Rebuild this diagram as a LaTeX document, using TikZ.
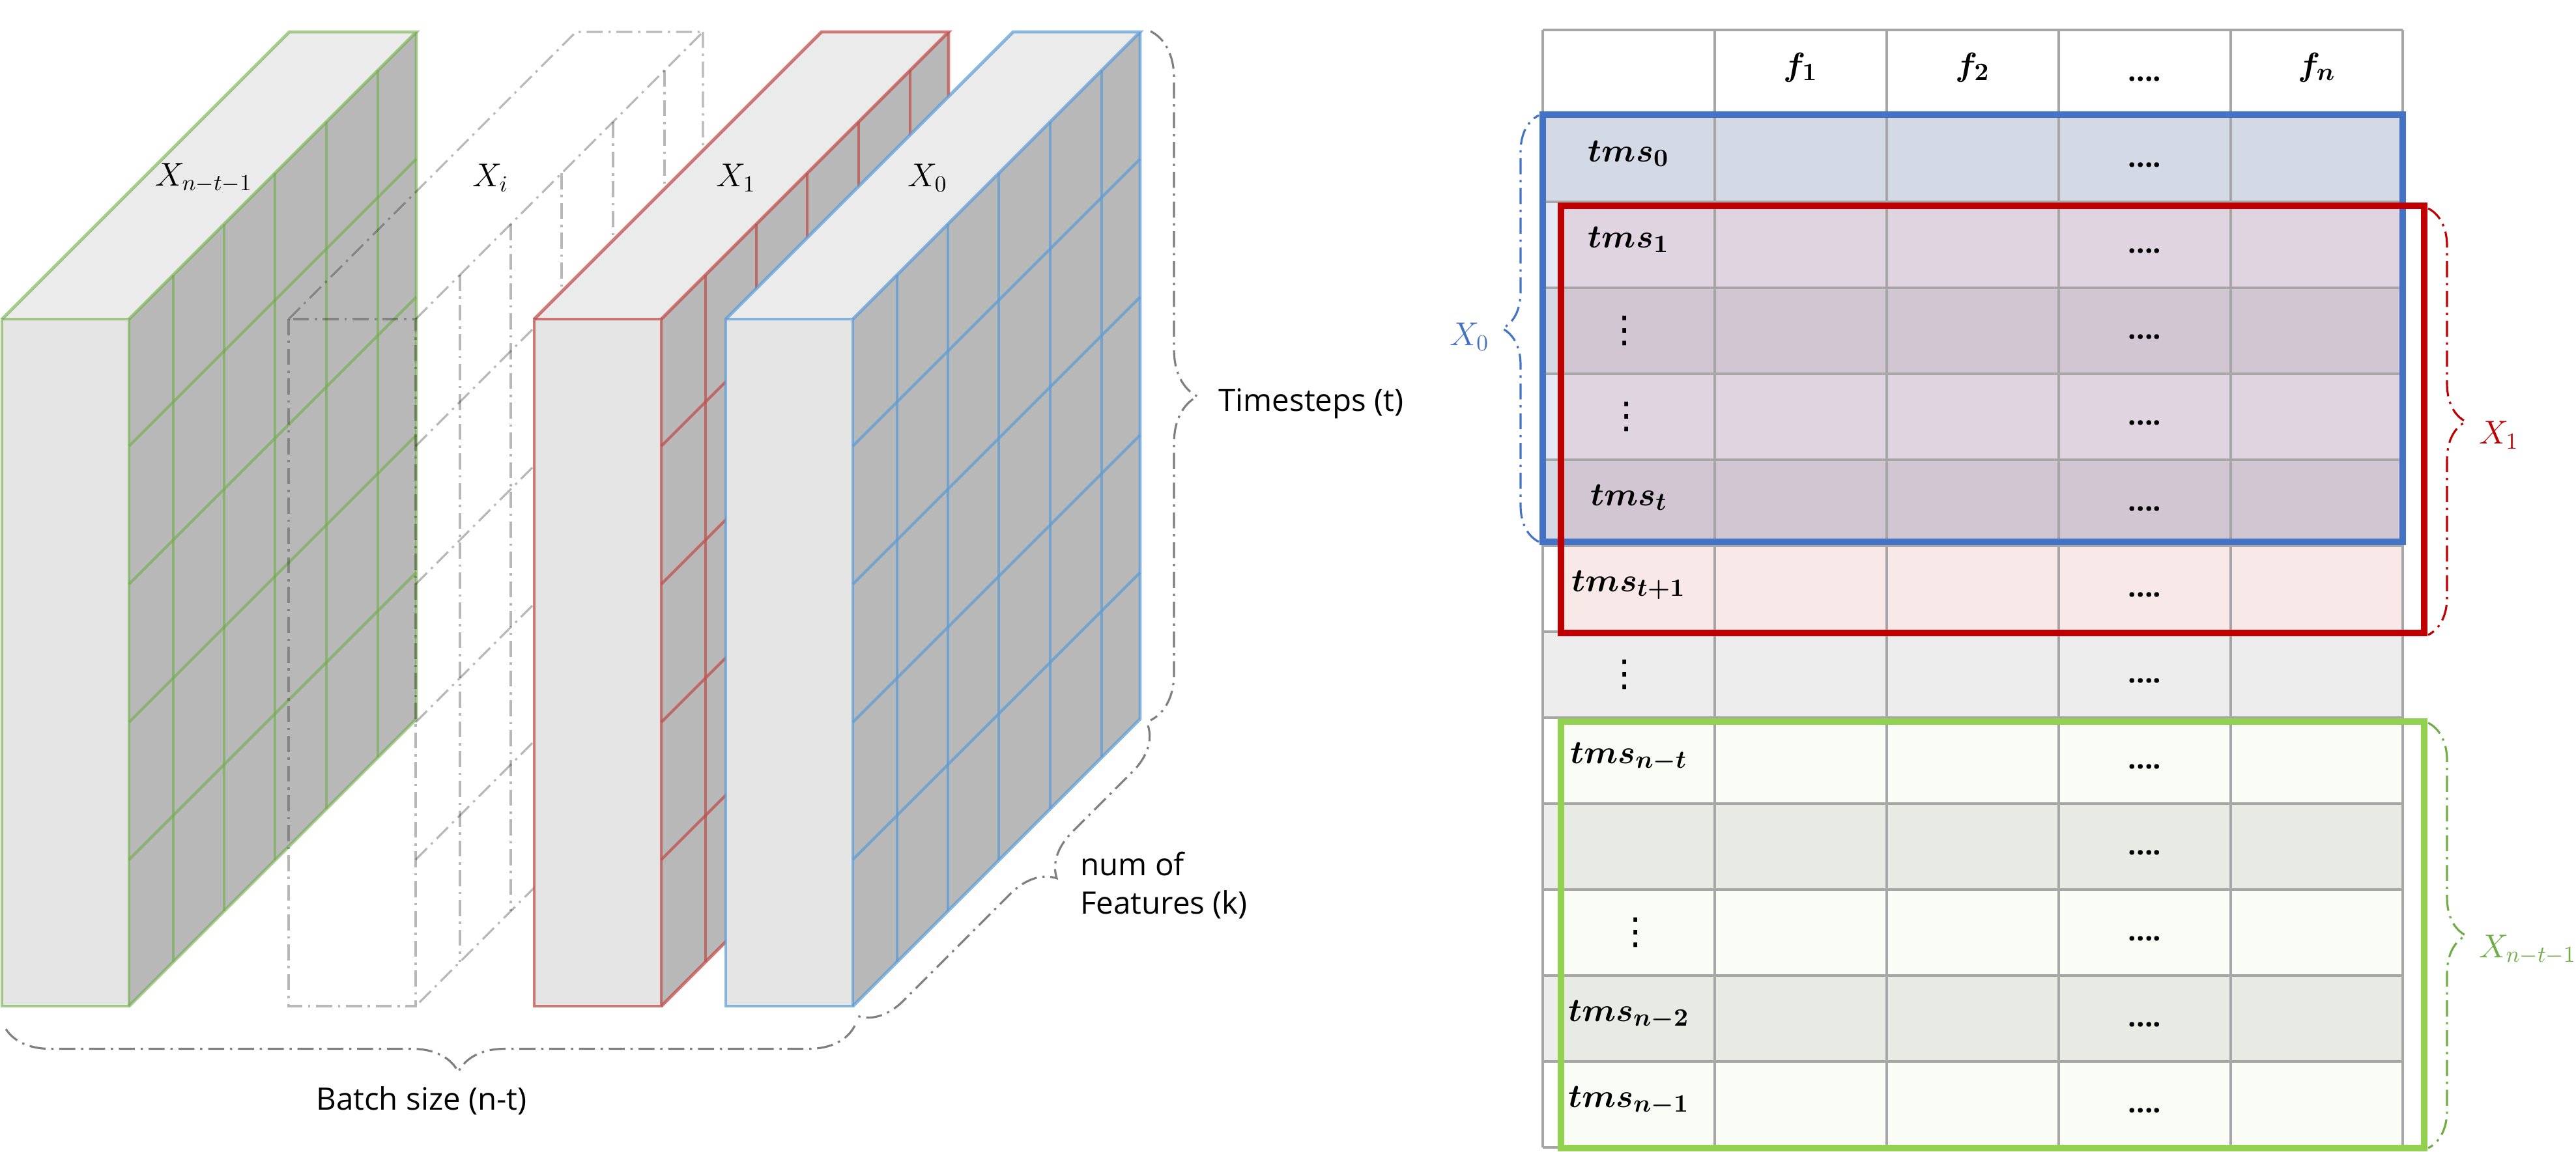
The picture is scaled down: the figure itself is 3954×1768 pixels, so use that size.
\documentclass[tikz,border=0pt]{standalone}
\usepackage{fontspec}
\newfontfamily\labelfont{Open Sans}
\newfontfamily\symbolfont{DejaVu Sans}
\usetikzlibrary{decorations.pathreplacing}

\definecolor{cubefront}{HTML}{E5E5E5}
\definecolor{cubetop}{HTML}{EBEBEB}
\definecolor{cubeside}{HTML}{B8B8B8}
\definecolor{cubegreen}{HTML}{70AD47}
\definecolor{cubered}{HTML}{C0504D}
\definecolor{cubeblue}{HTML}{5B9BD5}
\definecolor{bracegray}{HTML}{7F7F7F}
\definecolor{gridgray}{HTML}{A6A6A6}
\definecolor{rowgray}{HTML}{EDEDED}
\definecolor{selblue}{HTML}{4472C4}
\definecolor{selred}{HTML}{C00000}
\definecolor{selgreen}{HTML}{92D050}
\definecolor{labelgreen}{HTML}{70AD47}

\begin{document}
\begin{tikzpicture}
[x=0.01cm, y=-0.01cm,
  frontface/.style={fill=cubefront},
  topface/.style={fill=cubetop},
  sideface/.style={fill=cubeside},
  longdashdot/.style={dash pattern=on 7pt off 2.5pt on 1pt off 2.5pt},
  greencube/.style={cubeedge/.style={draw=cubegreen,draw opacity=0.6,line width=1.4pt},
    cubegrid/.style={draw=cubegreen,draw opacity=0.6,line width=1.2pt}},
  redcube/.style={cubeedge/.style={draw=cubered,draw opacity=0.75,line width=1.4pt},
    cubegrid/.style={draw=cubered,draw opacity=0.75,line width=1.2pt}},
  bluecube/.style={cubeedge/.style={draw=cubeblue,draw opacity=0.7,line width=1.4pt},
    cubegrid/.style={draw=cubeblue,draw opacity=0.7,line width=1.2pt}},
  wirecube/.style={frontface/.style={}, topface/.style={}, sideface/.style={},
    cubeedge/.style={draw=black,draw opacity=0.28,line width=0.9pt,longdashdot},
    cubegrid/.style={draw=black,draw opacity=0.28,line width=0.9pt,longdashdot}},
  cubelabel/.style={font=\fontsize{14}{17}\selectfont},
  groupbrace/.style={decorate,line width=0.9pt,longdashdot},
  sidetext/.style={font=\labelfont\fontsize{13.5}{16.8}\selectfont},
  tablegrid/.style={draw=gridgray,line width=1.1pt},
  selbox/.style={line width=2.7pt},
  celltext/.style={font=\fontsize{15.5}{18}\selectfont\boldmath,anchor=base},
  vdotstext/.style={font=\symbolfont\fontsize{16}{18}\selectfont},
  dotstext/.style={font=\labelfont\bfseries\fontsize{12.5}{15}\selectfont,anchor=base},
  sellabel/.style={font=\fontsize{14}{17}\selectfont}]
\useasboundingbox (0,0) rectangle (3954,1768);
%% cubes
\foreach \bx/\cubestyle/\lab in {3/greencube/{X_{n-t-1}}, 443/wirecube/X_i,
  820/redcube/X_1, 1114/bluecube/X_0}
{
  \begin{scope}[\cubestyle]
    \path[frontface] (\bx,490) rectangle ++(195,1055);
    \path[topface] (\bx,490) -- ++(441,-441) -- ++(195,0) -- ++(-441,441) -- cycle;
    \path[sideface] (\bx+195,490) -- ++(441,-441) -- ++(0,1055) -- ++(-441,441) -- cycle;
    \foreach \dx in {68,146,224,303,382}
      \draw[cubegrid] (\bx+195+\dx,490-\dx) -- ++(0,1055);
    \foreach \dy in {195,407,619,830}
      \draw[cubegrid] (\bx+195,490+\dy) -- ++(441,-441);
    \draw[cubeedge] (\bx,490) rectangle ++(195,1055);
    \draw[cubeedge] (\bx,490) -- ++(441,-441) -- ++(195,0) -- ++(-441,441);
    \draw[cubeedge] (\bx+636,49) -- ++(0,1055) -- ++(-441,441);
    \node[cubelabel] (lbl\bx) at (\bx+310,273) {$\lab$};
  \end{scope}
}
%% braces of the cubes
\coordinate (tsTop) at (1766,48);
\coordinate (tsBot) at (1766,1106);
\coordinate (nfTop) at (1762,1114);
\coordinate (nfBot) at (1316,1560);
\coordinate (bsRight) at (1312,1575);
\coordinate (bsLeft) at (6,1575);
\draw[groupbrace,draw=bracegray,decoration={brace,amplitude=0.72cm,aspect=0.53}]
  (tsTop) -- (tsBot);
\draw[groupbrace,draw=bracegray,decoration={brace,amplitude=0.67cm,aspect=0.42}]
  (nfTop) -- (nfBot);
\draw[groupbrace,draw=bracegray,decoration={brace,amplitude=0.71cm,aspect=0.466}]
  (bsRight) -- (bsLeft);
\node[sidetext,anchor=west] (timesteps) at (1858,620) {Timesteps (t)};
\node[sidetext,anchor=west,align=left] (features) at (1646,1360) {num of\\Features (k)};
\node[sidetext] (batch) at (647,1690) {Batch size (n-t)};
%% table rows
\foreach \r in {1,3,...,11}
  \fill[rowgray] (2368,46+132*\r) rectangle ++(1320,132);
\fill[selblue,opacity=0.15] (2368,178) rectangle (3688,838);
\fill[selred,opacity=0.09] (2396,310) rectangle (3688,970);
\fill[selgreen,opacity=0.05] (2396,1102) rectangle (3688,1762);
%% table grid
\foreach \c in {0,...,5}
  \draw[tablegrid] (2368+264*\c,46) -- ++(0,1716);
\foreach \r in {0,...,13}
  \draw[tablegrid] (2368,46+132*\r) -- ++(1320,0);
%% windows
\draw[selbox,draw=selblue] (2368,176) rectangle (3688,832);
\draw[selbox,draw=selred] (2396,316) rectangle (3721,972);
\draw[selbox,draw=selgreen] (2396,1108) rectangle (3721,1763);
%% table texts
\foreach \c/\txt in {1/f_1, 2/f_2, 4/f_n}
  \node[celltext] (head\c) at (2500+264*\c,116) {$\txt$};
\node[dotstext] (head3) at (3292,124) {....};
\foreach \r/\txt in {1/tms_0, 2/tms_1, 5/tms_t, 6/{tms_{t+1}}, 8/{tms_{n-t}},
  11/{tms_{n-2}}, 12/{tms_{n-1}}}
  \node[celltext] (row\r) at (2500,116+132*\r) {$\txt$};
\foreach \r/\x in {3/2494, 4/2497, 7/2494, 10/2511}
  \node[vdotstext] (row\r) at (\x,112+132*\r) {⋮};
\foreach \r in {1,...,12}
  \node[dotstext] (dots\r) at (3292,124+132*\r) {....};
%% braces of the windows
\coordinate (xzeroBot) at (2362,832);
\coordinate (xzeroTop) at (2362,177);
\coordinate (xoneTop) at (3727,320);
\coordinate (xoneBot) at (3727,975);
\coordinate (xlastTop) at (3727,1110);
\coordinate (xlastBot) at (3727,1763);
\draw[groupbrace,draw=selblue,decoration={brace,amplitude=0.56cm}] (xzeroBot) -- (xzeroTop);
\draw[groupbrace,draw=selred,decoration={brace,amplitude=0.58cm}] (xoneTop) -- (xoneBot);
\draw[groupbrace,draw=labelgreen,decoration={brace,amplitude=0.58cm}] (xlastTop) -- (xlastBot);
\node[sellabel,text=selblue,anchor=east] (xzero) at (2298,517) {$X_0$};
\node[sellabel,text=selred,anchor=west] (xone) at (3793,668) {$X_1$};
\node[sellabel,text=labelgreen,anchor=west] (xlast) at (3793,1458) {$X_{n-t-1}$};
\end{tikzpicture}
\end{document}
